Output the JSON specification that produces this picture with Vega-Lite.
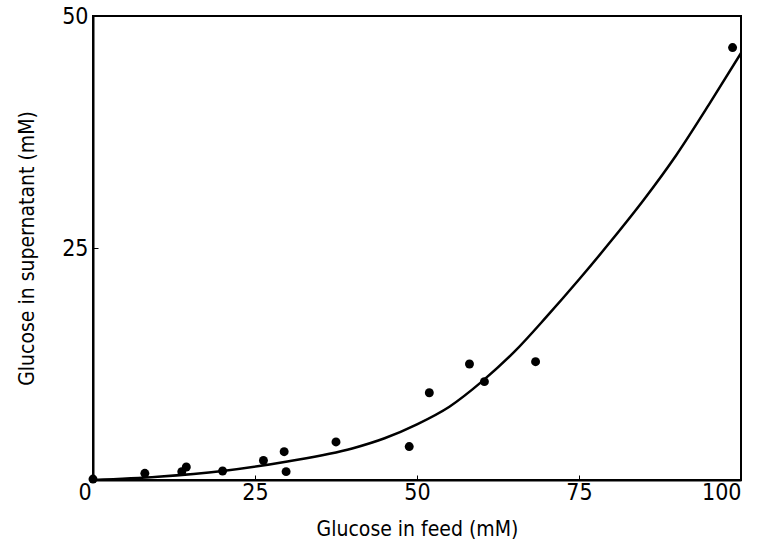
{
  "$schema": "https://vega.github.io/schema/vega-lite/v6.json",
  "width": 648,
  "height": 464,
  "autosize": "none",
  "padding": {"left": 93, "top": 16, "right": 20, "bottom": 75},
  "background": "white",
  "config": {
    "view": {"stroke": "black", "strokeWidth": 2},
    "font": "DejaVu Sans Condensed",
    "axis": {
      "grid": false,
      "domainColor": "black",
      "domainWidth": 2,
      "tickColor": "black",
      "tickSize": -5,
      "tickWidth": 1,
      "labelColor": "black",
      "titleColor": "black",
      "labelFont": "DejaVu Sans Condensed",
      "titleFont": "DejaVu Sans Condensed",
      "labelFontSize": 23,
      "titleFontSize": 21,
      "titleFontWeight": "normal"
    }
  },
  "datasets": {
    "points": [
      {"feed": 0, "sup": 0.1},
      {"feed": 8.0, "sup": 0.72},
      {"feed": 13.7, "sup": 0.9},
      {"feed": 14.4, "sup": 1.4},
      {"feed": 20.0, "sup": 0.97},
      {"feed": 26.3, "sup": 2.1},
      {"feed": 29.5, "sup": 3.05},
      {"feed": 29.8, "sup": 0.9},
      {"feed": 37.5, "sup": 4.1},
      {"feed": 48.8, "sup": 3.6},
      {"feed": 51.9, "sup": 9.4},
      {"feed": 58.1, "sup": 12.5},
      {"feed": 60.4, "sup": 10.6},
      {"feed": 68.3, "sup": 12.75},
      {"feed": 98.7, "sup": 46.6}
    ],
    "curve": [
      {"cx": 0, "cy": 0},
      {"cx": 10, "cy": 0.35},
      {"cx": 20, "cy": 0.97},
      {"cx": 30, "cy": 2.0},
      {"cx": 40, "cy": 3.4},
      {"cx": 45, "cy": 4.5},
      {"cx": 50, "cy": 6.0},
      {"cx": 55, "cy": 7.9},
      {"cx": 60, "cy": 10.6},
      {"cx": 65, "cy": 13.8},
      {"cx": 70, "cy": 17.6},
      {"cx": 75, "cy": 21.6},
      {"cx": 80, "cy": 25.8},
      {"cx": 85, "cy": 30.2},
      {"cx": 90, "cy": 35.0},
      {"cx": 95, "cy": 40.4},
      {"cx": 100, "cy": 46.0}
    ]
  },
  "layer": [
    {
      "data": {"name": "curve"},
      "mark": {"type": "line", "color": "black", "strokeWidth": 2.5, "interpolate": "monotone", "clip": true},
      "encoding": {
        "x": {"field": "cx", "type": "quantitative"},
        "y": {"field": "cy", "type": "quantitative"}
      }
    },
    {
      "data": {"name": "points"},
      "mark": {"type": "point", "filled": true, "color": "black", "size": 80, "opacity": 1},
      "encoding": {
        "x": {
          "field": "feed", "type": "quantitative",
          "scale": {"domain": [0, 100], "nice": false, "zero": true},
          "axis": {
            "title": "Glucose in feed (mM)",
            "values": [0, 25, 50, 75, 100],
            "labelPadding": 6,
            "titlePadding": 14,
            "labelOffset": {"condition": {"test": "datum.value == 0", "value": -15}, "value": 0}
          }
        },
        "y": {
          "field": "sup", "type": "quantitative",
          "scale": {"domain": [0, 50], "nice": false},
          "axis": {
            "title": "Glucose in supernatant (mM)",
            "values": [25, 50],
            "labelPadding": 10,
            "titlePadding": 24
          }
        }
      }
    }
  ]
}
